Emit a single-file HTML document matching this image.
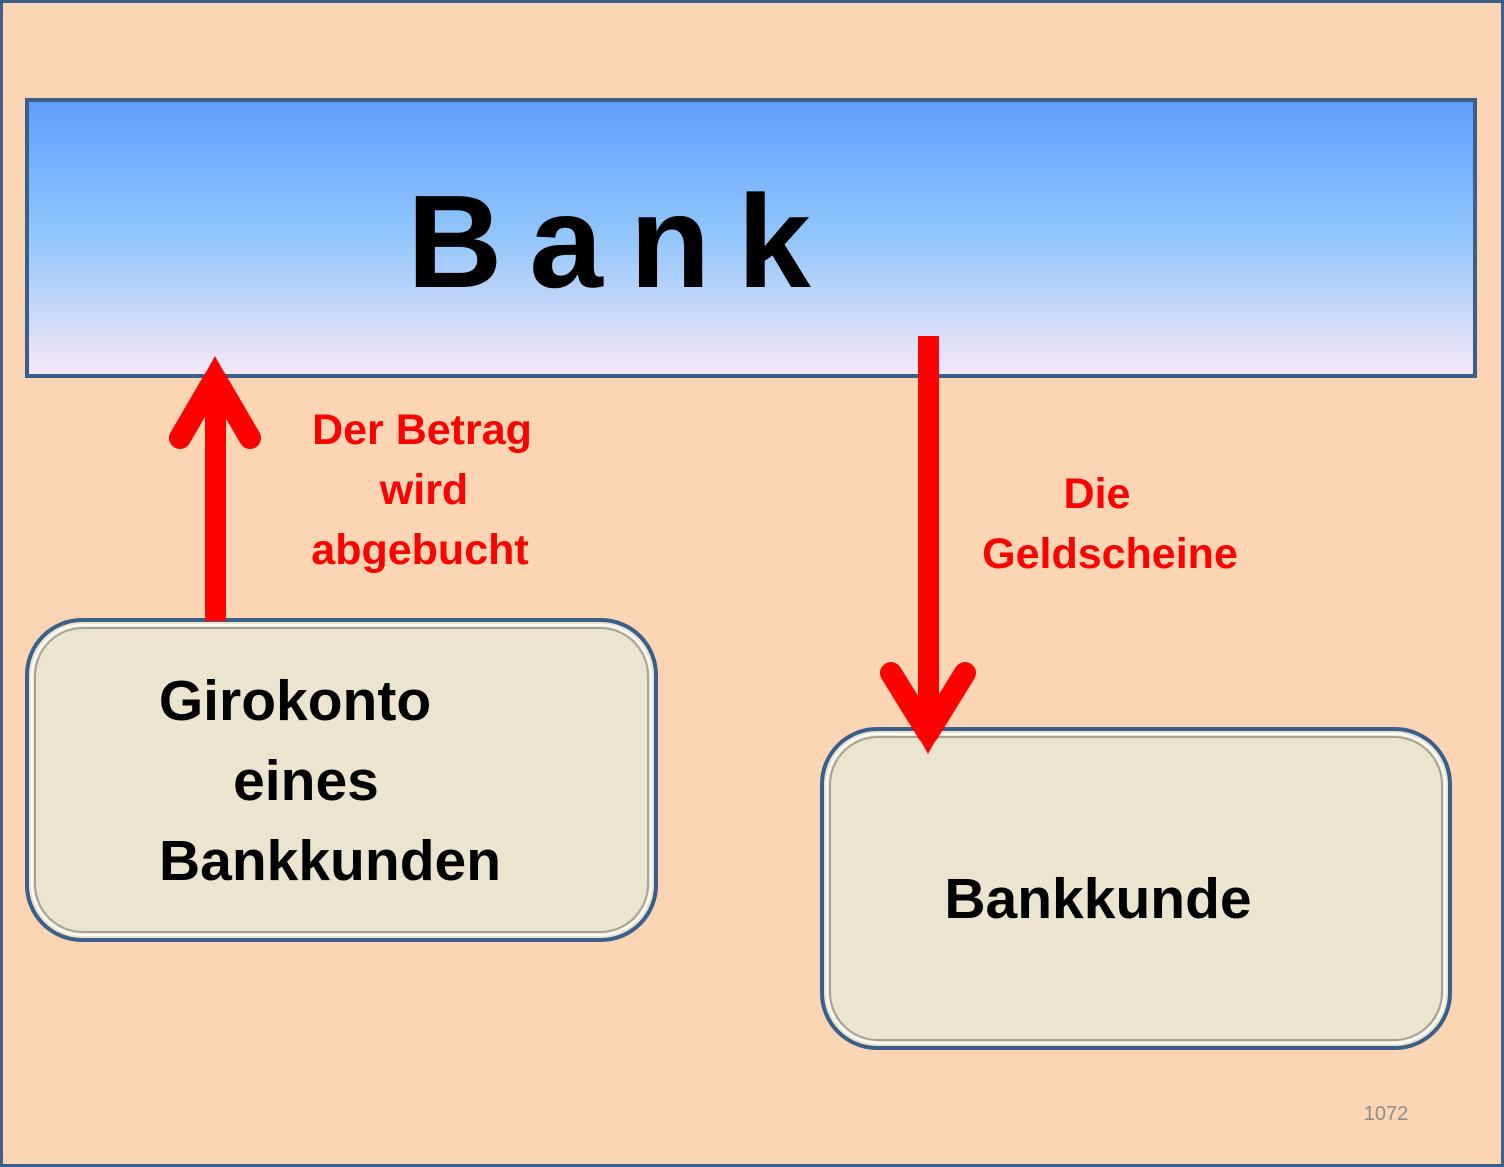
<!DOCTYPE html>
<html><head><meta charset="utf-8"><style>
html,body{margin:0;padding:0;background:#fcd5b4;}
svg{display:block;}
text{font-family:"Liberation Sans",sans-serif;font-weight:bold;}
</style></head><body>
<svg width="1504" height="1167" viewBox="0 0 1504 1167" xmlns="http://www.w3.org/2000/svg">
<defs>
<linearGradient id="g" x1="0" y1="0" x2="0" y2="1">
<stop offset="0" stop-color="#5f9ffc"/>
<stop offset="0.5" stop-color="#93c6fb"/>
<stop offset="1" stop-color="#f7e8f8"/>
</linearGradient>
</defs>
<rect x="1.5" y="1.5" width="1501" height="1164" fill="#fcd5b4" stroke="#3a5f8a" stroke-width="3"/>
<rect x="27" y="100" width="1448" height="276" fill="url(#g)" stroke="#3a5f8a" stroke-width="4"/>
<text x="407" y="287" font-size="132" fill="#000" letter-spacing="27">Bank</text>

<rect x="27" y="620" width="629" height="320" rx="55" fill="#ebe5cf" stroke="#3a5f8a" stroke-width="4"/>
<rect x="32" y="625" width="619" height="310" rx="51" fill="none" stroke="#fff" stroke-width="2"/>
<rect x="35" y="628" width="613" height="304" rx="48" fill="none" stroke="#8a8676" stroke-width="2" opacity="0.7"/>
<rect x="822" y="729" width="628" height="319" rx="55" fill="#ebe5cf" stroke="#3a5f8a" stroke-width="4"/>
<rect x="827" y="734" width="618" height="309" rx="51" fill="none" stroke="#fff" stroke-width="2"/>
<rect x="830" y="737" width="612" height="303" rx="48" fill="none" stroke="#8a8676" stroke-width="2" opacity="0.7"/>

<text x="295" y="720" font-size="57" text-anchor="middle">Girokonto</text>
<text x="306" y="800" font-size="57" text-anchor="middle">eines</text>
<text x="330" y="880" font-size="57" text-anchor="middle">Bankkunden</text>
<text x="1098" y="918" font-size="57" text-anchor="middle">Bankkunde</text>

<rect x="205" y="380" width="21" height="241" fill="#f00"/>
<polyline points="180,438 215,378 250,438" fill="none" stroke="#f00" stroke-width="22" stroke-linecap="round" stroke-linejoin="round"/>
<polygon points="215,356 195,392 235,392" fill="#f00"/>

<rect x="918" y="336" width="21" height="390" fill="#f00"/>
<polyline points="891,673 928,733 965,673" fill="none" stroke="#f00" stroke-width="22" stroke-linecap="round" stroke-linejoin="round"/>
<polygon points="928,754 908,718 948,718" fill="#f00"/>

<text x="422" y="444" font-size="43" fill="#f00" text-anchor="middle">Der Betrag</text>
<text x="424" y="504" font-size="43" fill="#f00" text-anchor="middle">wird</text>
<text x="420" y="564" font-size="43" fill="#f00" text-anchor="middle">abgebucht</text>
<text x="1097" y="508" font-size="43" fill="#f00" text-anchor="middle">Die</text>
<text x="1110" y="568" font-size="43" fill="#f00" text-anchor="middle">Geldscheine</text>

<text x="1386" y="1120" font-size="20" fill="#8c8c8c" text-anchor="middle" style="font-weight:normal">1072</text>
</svg>
</body></html>
